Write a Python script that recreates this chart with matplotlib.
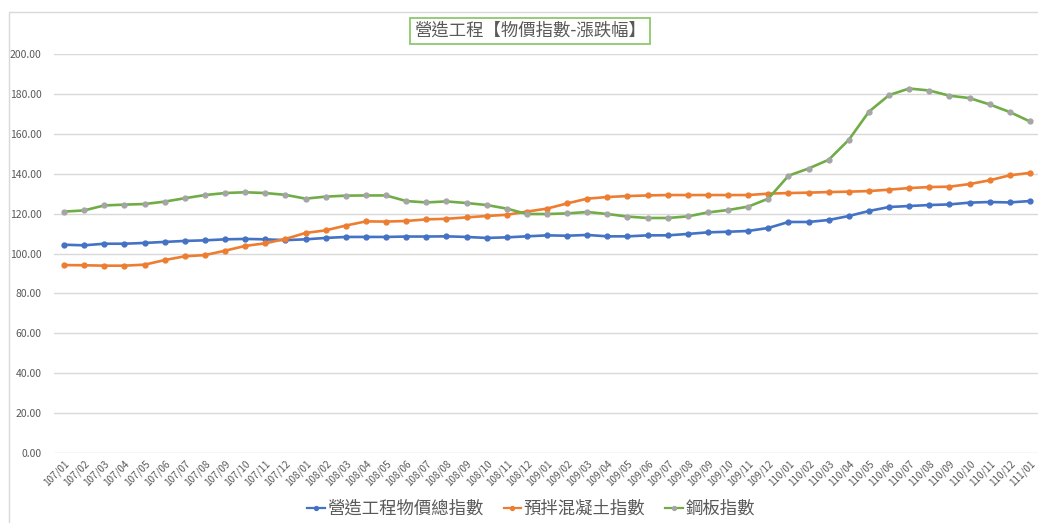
import matplotlib.pyplot as plt
from matplotlib.patches import Rectangle

plt.rcParams['font.family'] = ['Noto Sans CJK TC', 'DejaVu Sans']

# months 107/01 .. 111/01
months = [f'{y}/{m:02d}' for y in range(107, 111) for m in range(1, 13)] + ['111/01']

total_index = [104.4, 104.1, 104.9, 104.9, 105.3, 105.8, 106.3, 106.6, 107.1, 107.3, 107.1, 106.7,
               107.1, 107.8, 108.3, 108.3, 108.3, 108.5, 108.5, 108.6, 108.3, 107.8, 108.1, 108.6,
               109.1, 108.9, 109.3, 108.6, 108.6, 109.1, 109.1, 109.8, 110.6, 110.9, 111.3, 112.8,
               115.8, 115.8, 116.8, 118.8, 121.3, 123.3, 123.8, 124.3, 124.6, 125.5, 125.8, 125.6,
               126.3]
concrete_index = [94.2, 94.1, 93.9, 93.9, 94.4, 96.7, 98.6, 99.2, 101.4, 103.8, 105.1, 107.3,
                  110.3, 111.6, 114.0, 116.1, 116.0, 116.3, 117.1, 117.4, 118.1, 118.8, 119.4, 121.0,
                  122.5, 125.1, 127.5, 128.3, 128.8, 129.1, 129.3, 129.3, 129.3, 129.3, 129.3, 130.0,
                  130.3, 130.5, 130.8, 131.0, 131.3, 132.0, 132.8, 133.3, 133.5, 134.8, 136.7, 139.2,
                  140.4]
steel_index = [121.0, 121.6, 124.1, 124.5, 124.8, 126.0, 127.7, 129.3, 130.3, 130.7, 130.3, 129.4,
               127.5, 128.5, 129.0, 129.1, 129.1, 126.3, 125.6, 126.1, 125.3, 124.3, 122.5, 119.8,
               119.8, 120.1, 120.8, 119.8, 118.5, 117.8, 117.8, 118.6, 120.6, 121.8, 123.5, 127.5,
               139.0, 142.6, 147.0, 157.0, 171.1, 179.4, 182.7, 181.7, 179.1, 177.9, 174.7, 170.9,
               166.2]

names = ['營造工程物價總指數', '預拌混凝土指數', '鋼板指數']

fig = plt.figure(figsize=(10.38, 5.23), dpi=100)
ax = fig.add_axes([54 / 1038, 70 / 523, 986 / 1038, 399 / 523])

# chart area border (top & left visible)
fig.add_artist(Rectangle((9 / 1038, -0.1), 1.2, (523 - 12) / 523 + 0.1, transform=fig.transFigure,
                         fill=False, edgecolor='#D9D9D9', linewidth=1))

x = list(range(len(months)))
ax.plot(x, total_index, color='#4472C4', lw=1.9, marker='o', ms=3.5, label=names[0])
ax.plot(x, concrete_index, color='#ED7D31', lw=1.9, marker='o', ms=3.5, label=names[1])
ax.plot(x, steel_index, color='#70AD47', lw=1.9, marker='o', ms=3.5,
        mfc='#A5A5A5', mec='#A5A5A5', label=names[2])

ax.set_xlim(-0.5, len(months) - 0.5)
ax.set_ylim(0, 200)
ax.set_yticks(range(0, 201, 20))
ax.set_yticklabels([f'{v:.2f}' for v in range(0, 201, 20)], fontsize=7.5, color='#595959')
ax.set_xticks(x)
ax.set_xticklabels(months, rotation=45, ha='right', va='top', rotation_mode='anchor',
                   fontsize=7.2, color='#595959')
ax.tick_params(axis='both', length=0)
ax.tick_params(axis='y', pad=9)
ax.tick_params(axis='x', pad=4)
ax.grid(axis='y', color='#D9D9D9', lw=1)
ax.set_axisbelow(True)
for s in ax.spines.values():
    s.set_visible(False)

fig.text(530 / 1038, 1 - 31 / 523, '營造工程【物價指數-漲跌幅】', ha='center', va='center',
         fontsize=12.5, color='#595959',
         bbox=dict(boxstyle='square,pad=0.25', fc='white', ec='#8CC96C', lw=1.3))

leg = fig.legend(loc='center', bbox_to_anchor=(531 / 1038, 1 - 509 / 523), ncol=3, frameon=False,
                 fontsize=12.5, handlelength=1.0, handletextpad=0.15, columnspacing=1.15,
                 labelcolor='#595959', markerscale=0.8)
for h in leg.legend_handles:
    h.set_linewidth(1.6)

fig.savefig('out.png', dpi=100)
